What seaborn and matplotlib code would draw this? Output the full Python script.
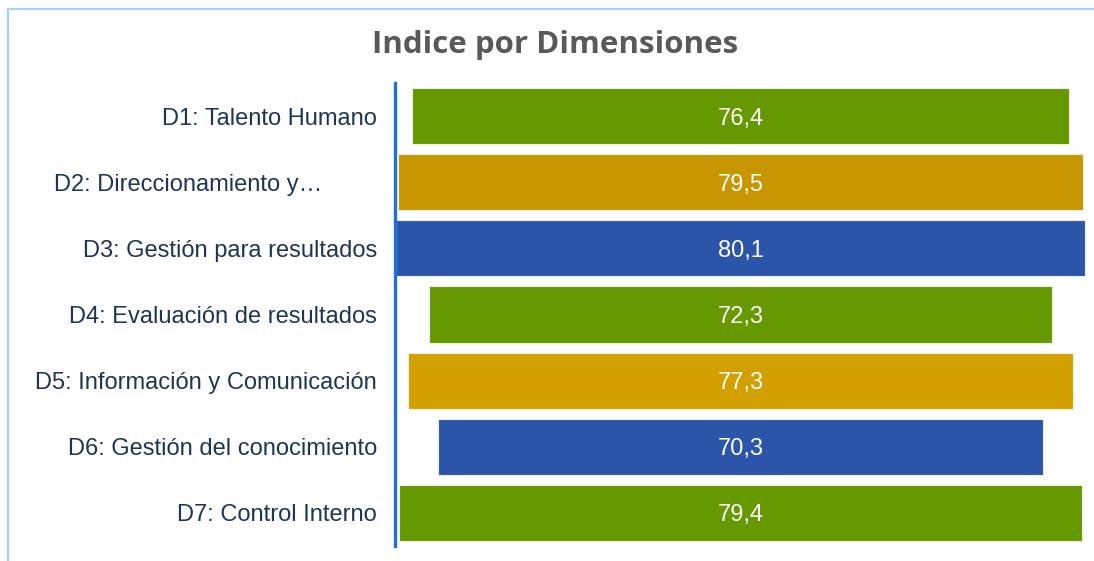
import matplotlib
matplotlib.use("Agg")
import matplotlib.pyplot as plt
import matplotlib.transforms as mtransforms
from matplotlib.lines import Line2D
import seaborn as sns
import pandas as pd

# data
dimensiones = [
    "D1: Talento Humano",
    "D2: Direccionamiento y…",
    "D3: Gestión para resultados",
    "D4: Evaluación de resultados",
    "D5: Información y Comunicación",
    "D6: Gestión del conocimiento",
    "D7: Control Interno",
]
indices = [76.4, 79.5, 80.1, 72.3, 77.3, 70.3, 79.4]
colores = ["#669900", "#C89600", "#2A55A8", "#669900", "#D3A000", "#2A55A8", "#669900"]

df = pd.DataFrame({"dim": dimensiones, "valor": indices})

sns.set_style("white")
plt.rcParams["font.family"] = ["Liberation Sans", "DejaVu Sans"]

fig = plt.figure(figsize=(10.94, 5.61), dpi=100)
ax = fig.add_axes([395 / 1094, 15 / 561, 695 / 1094, 463 / 561])

sns.barplot(data=df, x="valor", y="dim", hue="dim", palette=colores,
            legend=False, orient="h", width=0.85, saturation=1, ax=ax,
            edgecolor="#E8F0E0", linewidth=0.8)

# center every bar on zero -> funnel look
for p, v in zip(ax.patches, indices):
    p.set_x(-v / 2)
    ax.text(0, p.get_y() + p.get_height() / 2, f"{v:.1f}".replace(".", ","),
            ha="center", va="center_baseline", color="white", fontsize=17)

ax.set_xlim(-40.15, 40.6)
ax.set_ylim(6.5, -0.5)
ax.set_xlabel("")
ax.set_ylabel("")
ax.set_xticks([])
for s in ["top", "right", "bottom"]:
    ax.spines[s].set_visible(False)
ax.spines["left"].set_color("#1F72CF")
ax.spines["left"].set_linewidth(2.4)
ax.tick_params(axis="y", length=0, pad=13, labelsize=17, labelcolor="#1E3556")

# second label sits further left in the original
lbl = ax.get_yticklabels()[1]
lbl.set_transform(lbl.get_transform() +
                  mtransforms.ScaledTranslation(-0.55, 0, fig.dpi_scale_trans))

fig.text(555 / 1094, 1 - 45 / 561, "Indice por Dimensiones", ha="center", va="center",
         fontsize=22.5, fontweight="bold", color="#595959", family="Open Sans")

# light frame
fig.add_artist(Line2D([7.5 / 1094, 1], [1 - 8.5 / 561] * 2, transform=fig.transFigure,
                      color="#A9D1F5", lw=1.6))
fig.add_artist(Line2D([7.5 / 1094] * 2, [0, 1 - 8.5 / 561], transform=fig.transFigure,
                      color="#A9D1F5", lw=1.6))

fig.savefig("out.png", dpi=100)
